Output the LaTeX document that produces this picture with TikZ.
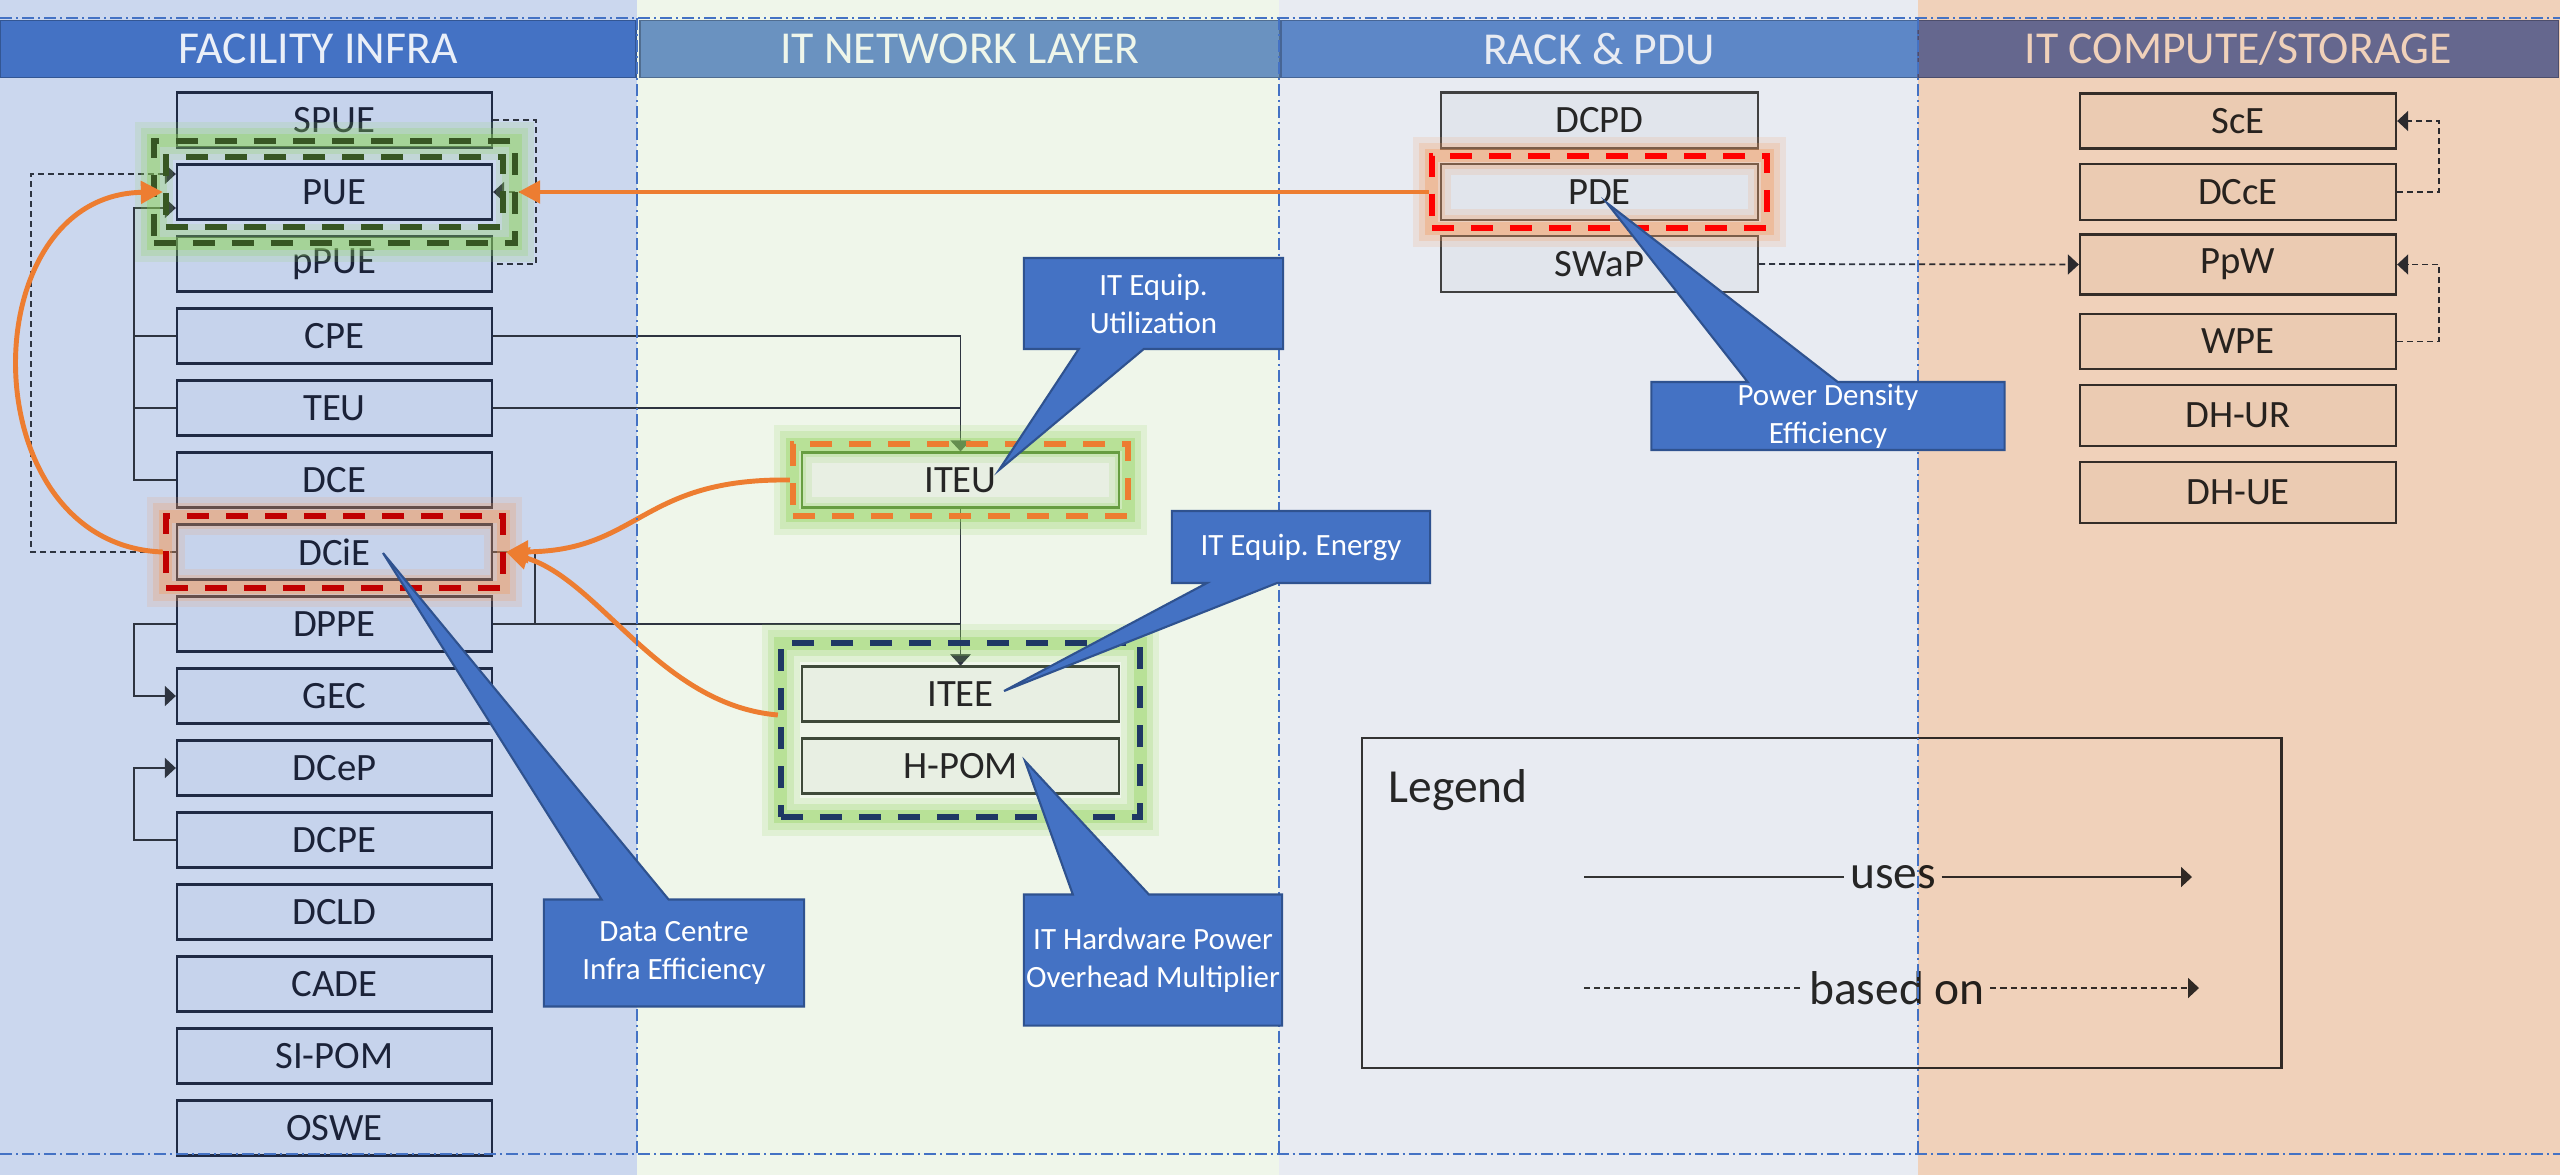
\documentclass[tikz,border=0pt]{standalone}
\usepackage{fontspec}
\setmainfont{Carlito}
\usepackage{tikz}
\usepackage{xcolor}
\usetikzlibrary{positioning, arrows.meta, fit, shapes.callouts}

\definecolor{facbg}{HTML}{CBD7EE}
\definecolor{facfill}{HTML}{C6D3EC}
\definecolor{facline}{HTML}{1F2A44}
\definecolor{factxt}{HTML}{1B2238}
\definecolor{netbg}{HTML}{EFF6EA}
\definecolor{netfill}{HTML}{E8EFE3}
\definecolor{netline}{HTML}{3F4A3A}
\definecolor{iteugreen}{HTML}{548235}
\definecolor{rackbg}{HTML}{E8EBF2}
\definecolor{rackfill}{HTML}{E1E5EC}
\definecolor{rackline}{HTML}{404040}
\definecolor{boxtxt}{HTML}{262626}
\definecolor{peach}{HTML}{F0D1BA}
\definecolor{cmpfill}{HTML}{FAF8F5}
\definecolor{cmpline}{HTML}{383838}
\definecolor{cmptxt}{HTML}{2A2A2A}
\definecolor{hdfac}{HTML}{4472C4}
\definecolor{hdnet}{HTML}{6A92C0}
\definecolor{hdrack}{HTML}{5D87C7}
\definecolor{hdcmp}{HTML}{6C7EC4}
\definecolor{calfill}{HTML}{4472C4}
\definecolor{calline}{HTML}{2F528F}
\definecolor{orangeln}{HTML}{ED7D31}
\definecolor{hlgreen}{HTML}{375623}
\definecolor{glowgreen}{HTML}{8FD45A}
\definecolor{gloworange}{HTML}{F39A5C}
\definecolor{hlnavy}{HTML}{1F3864}
\definecolor{hlred}{HTML}{C00000}
\definecolor{hlbright}{HTML}{FF0000}
\definecolor{conn}{HTML}{2E3440}
\definecolor{legline}{HTML}{333333}
\definecolor{colsep}{HTML}{4472C4}

\tikzset{
  mbox/.style={draw=#1, line width=0.6pt, minimum width=3.15cm, minimum height=0.55cm,
    inner sep=0pt, font=\fontsize{11}{13}\selectfont},
  facbox/.style={mbox=facline, fill=facfill, text=factxt},
  netbox/.style={mbox=netline, fill=netfill, text=boxtxt, minimum width=3.17cm},
  rackbox/.style={mbox=rackline, fill=rackfill, text=boxtxt, minimum width=3.17cm, minimum height=0.56cm},
  cmpbox/.style={mbox=cmpline, fill=cmpfill, text=cmptxt, minimum width=3.16cm},
  header/.style={draw=#1!75!black, fill=#1, line width=0.4pt, minimum height=0.57cm,
    inner sep=0pt, font=\fontsize{13}{15}\selectfont},
  hlbox/.style={draw=#1, line width=1.7pt, dash pattern=on 0.22cm off 0.17cm},
  hlglow/.style={preaction={draw=#1, solid, line width=0.38cm, opacity=0.15},
    preaction={draw=#1, solid, line width=0.26cm, opacity=0.22},
    preaction={draw=#1, solid, line width=0.13cm, opacity=0.35}},
  usesline/.style={draw=conn, line width=0.5pt},
  uses/.style={usesline, -{Triangle[length=0.11cm, width=0.2cm]}},
  basedline/.style={usesline, dash pattern=on 0.06cm off 0.04cm},
  based/.style={basedline, -{Triangle[length=0.11cm, width=0.2cm]}},
  oarrow/.style={draw=orangeln, line width=1.4pt, -{Triangle[length=0.22cm, width=0.22cm]}},
  callout/.style={rectangle callout, fill=calfill, draw=calline, line width=0.6pt, text=white,
    align=center, inner sep=0pt, font=\fontsize{8.8}{10.8}\selectfont},
  legtxt/.style={text=boxtxt, inner sep=0.05cm, font=\fontsize{13.5}{15}\selectfont},
  colline/.style={draw=colsep, line width=0.5pt, dash pattern=on 0.12cm off 0.04cm on 0.02cm off 0.04cm}
}

\begin{document}
\frenchspacing
\begin{tikzpicture}[x=0.01cm, y=-0.01cm]
    \useasboundingbox (0,0) rectangle (2560,1175);

    % columns
    \fill[facbg] (0,0) rectangle (637,1175);
    \fill[netbg] (637,0) rectangle (1279,1175);
    \fill[rackbg] (1279,0) rectangle (1918,1175);
    \fill[white] (1918,0) rectangle (2560,1175);

    \node[header=hdfac, text=facbg!40!white, minimum width=6.36cm] at (318,49) (hfac) {FACILITY INFRA};
    \node[header=hdnet, text=netbg, minimum width=6.4cm] at (960,49) (hnet) {IT NETWORK LAYER};
    \node[header=hdrack, text=rackbg, minimum width=6.36cm] at (1599,49) (hrack) {RACK \& PDU};
    \node[header=hdcmp, text=white, minimum width=6.4cm] at (2238,49) (hcmp) {IT COMPUTE/STORAGE};

    % facility infra
    \node[facbox] at (334.5,120) (spue) {SPUE};
    \node[facbox] at (334.5,192) (pue) {PUE};
    \node[facbox] at (334.5,264) (ppue) {pPUE};
    \node[facbox] at (334.5,336) (cpe) {CPE};
    \node[facbox] at (334.5,408) (teu) {TEU};
    \node[facbox] at (334.5,480) (dce) {DCE};
    \node[facbox] at (334.5,552) (dcie) {DCiE};
    \node[facbox] at (334.5,624) (dppe) {DPPE};
    \node[facbox] at (334.5,696) (gec) {GEC};
    \node[facbox] at (334.5,768) (dcep) {DCeP};
    \node[facbox] at (334.5,840) (dcpe) {DCPE};
    \node[facbox] at (334.5,912) (dcld) {DCLD};
    \node[facbox] at (334.5,984) (cade) {CADE};
    \node[facbox] at (334.5,1056) (sipom) {SI-POM};
    \node[facbox] at (334.5,1128) (oswe) {OSWE};

    % it network layer
    \node[netbox, draw=iteugreen] at (960.5,480) (iteu) {ITEU};
    \node[netbox] at (960.5,694) (itee) {ITEE};
    \node[netbox] at (960.5,766) (hpom) {H-POM};

    % rack and pdu
    \node[rackbox] at (1599.5,120.5) (dcpd) {DCPD};
    \node[rackbox] at (1599.5,192) (pde) {PDE};
    \node[rackbox] at (1599.5,264) (swap) {SWaP};

    % it compute / storage
    \node[cmpbox] at (2238,121) (sce) {ScE};
    \node[cmpbox, minimum height=0.56cm] at (2238,192) (dcce) {DCcE};
    \node[cmpbox, minimum height=0.6cm] at (2238,264.5) (ppw) {PpW};
    \node[cmpbox] at (2238,341.5) (wpe) {WPE};
    \node[cmpbox, minimum height=0.61cm] at (2238,415.5) (dhur) {DH-UR};
    \node[cmpbox, minimum height=0.61cm] at (2238,492.5) (dhue) {DH-UE};

    % uses
    \draw[usesline] (cpe.west) -- ++(-42,0);
    \draw[usesline] (teu.west) -- ++(-42,0);
    \draw[uses] (dce.west) -- ++(-42,0) |- (pue.west |- 0,208);
    \draw[uses] (dppe.west) -- ++(-42,0) |- (gec.west);
    \draw[uses] (dcpe.west) -- ++(-42,0) |- (dcep.west);
    \draw[uses] (cpe.east) -| (iteu.north);
    \draw[usesline] (teu.east) -- (teu.east -| iteu.north);
    \draw[uses] (iteu.south) -- (itee.north);
    \draw[usesline] (dcie.east) -- ++(42,0) -- ++(0,72);
    \draw[uses] (dppe.east) -| (itee.north);

    % based on
    \draw[based] (dcie.west) -- ++(-145,0) |- (pue.west |- 0,174);
    \draw[basedline] (spue.east) -- ++(43,0) |- (ppue.east);
    \coordinate (pjoin) at (535,192);
    \draw[based] (pjoin) -- (pue.east);
    \draw[based] (swap.east) -- (ppw.west);
    \draw[based] (dcce.east) -- ++(42,0) |- (sce.east);
    \draw[based] (wpe.east) -- ++(42,0) |- (ppw.east);

    % highlights
    \node[hlbox=hlgreen, hlglow=glowgreen, fit=(pue), inner xsep=0.22cm, inner ysep=0.225cm] (pueo) {};
    \node[hlbox=hlgreen, fit=(pue), inner xsep=0.1cm, inner ysep=0.065cm] (puei) {};
    \node[hlbox=hlred, hlglow=gloworange, fit=(dcie), inner xsep=0.1cm, inner ysep=0.07cm] (dcieh) {};
    \node[hlbox=orangeln, hlglow=glowgreen, fit=(iteu), inner xsep=0.08cm, inner ysep=0.07cm] (iteuh) {};
    \node[hlbox=hlnavy, hlglow=glowgreen, fit=(itee)(hpom), inner xsep=0.2cm, inner ysep=0.22cm] (iteeh) {};
    \node[hlbox=hlbright, hlglow=gloworange, fit=(pde), inner xsep=0.08cm, inner ysep=0.07cm] (pdeh) {};

    \draw[oarrow] (pdeh.west) -- (pueo.east |- pdeh.west);
    \draw[oarrow] (iteuh.west) .. controls (640,478) and (640,551) .. (dcieh.east);
    \draw[oarrow] ([yshift=0.15cm]iteeh.west) .. controls (660,705) and (600,580) .. (dcieh.east);
    \draw[oarrow] (dcieh.west) .. controls (-30,545) and (-30,195) .. (puei.west);

    % legend
    \node[draw=legline, line width=0.7pt, minimum width=9.19cm, minimum height=3.3cm] at (1821.5,903) (legend) {};
    \node[legtxt, anchor=west] at (1383,790) (legtitle) {Legend};
    \coordinate (usesa) at (1584,877);
    \node[legtxt] at (1893,877) (usestxt) {uses};
    \coordinate (usesb) at (2192,877);
    \draw[usesline, draw=legline] (usesa) -- (usestxt.west);
    \draw[uses, draw=legline] (usestxt.east) -- (usesb);
    \coordinate (baseda) at (1584,988);
    \node[legtxt] at (1897,988) (basedtxt) {based on};
    \coordinate (basedb) at (2199,988);
    \draw[basedline, draw=legline] (baseda) -- (basedtxt.west);
    \draw[based, draw=legline] (basedtxt.east) -- (basedb);

    % compute column tint
    \begin{scope}[blend mode=multiply]
        \fill[peach] (1918,0) rectangle (2560,1175);
    \end{scope}

    % column borders
    \draw[colline] (0,18) -- (2560,18);
    \draw[colline] (0,1154) -- (2560,1154);
    \draw[colline] (637,18) -- (637,1154);
    \draw[colline] (1279,18) -- (1279,1154);
    \draw[colline] (1918,18) -- (1918,1154);

    % callouts
    \node[callout, callout absolute pointer={(999,470)}, callout pointer width=0.65cm,
        minimum width=2.59cm, minimum height=0.91cm] at (1153.5,303.5) (citeu) {IT Equip.\\Utilization};
    \node[callout, callout absolute pointer={(1004,691)}, callout pointer width=0.7cm,
        minimum width=2.58cm, minimum height=0.72cm] at (1301,547) (citee) {IT Equip. Energy};
    \node[callout, callout absolute pointer={(1607,203)}, callout pointer width=0.9cm,
        minimum width=3.53cm, minimum height=0.68cm] at (1828,416) (cpde) {Power Density\\Efficiency};
    \node[callout, callout absolute pointer={(383,553)}, callout pointer width=0.67cm,
        minimum width=2.6cm, minimum height=1.07cm] at (674,953) (cdcie) {Data Centre\\Infra Efficiency};
    \node[callout, callout absolute pointer={(1025,761)}, callout pointer width=0.76cm,
        minimum width=2.58cm, minimum height=1.31cm] at (1153,960) (chpom) {IT Hardware Power\\Overhead Multiplier};
\end{tikzpicture}
\end{document}
